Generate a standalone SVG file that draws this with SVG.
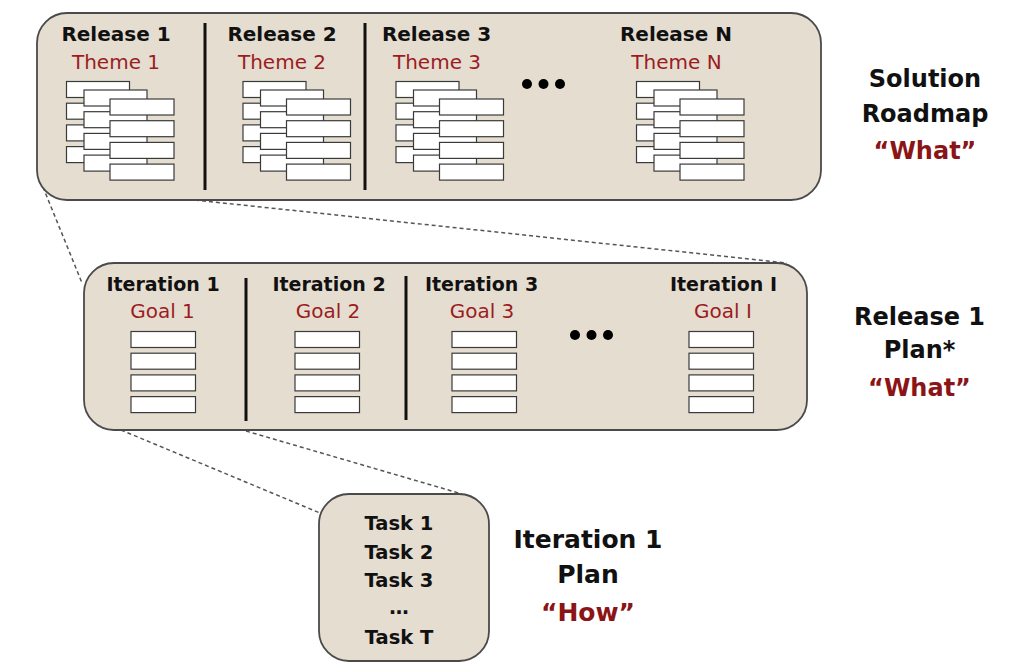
<svg xmlns="http://www.w3.org/2000/svg" xmlns:xlink="http://www.w3.org/1999/xlink" width="1034" height="666" viewBox="0 0 1034 666">
<style>
.panel{fill:#e5ddd0;stroke:#4a4a4a;stroke-width:1.8}
.box{fill:#ffffff;stroke:#3a3a3a;stroke-width:1.2}
.div{stroke:#111;stroke-width:3}
.h{font-family:"DejaVu Sans",sans-serif;font-weight:bold;fill:#111;text-anchor:middle}
.r{font-family:"DejaVu Sans",sans-serif;fill:#9b1c1f;text-anchor:middle}
.rb{font-family:"DejaVu Sans",sans-serif;font-weight:bold;fill:#8b1416;text-anchor:middle}
.dash{stroke:#555;stroke-width:1.5;stroke-dasharray:4 3;fill:none}
.dot{fill:#000}
</style>
<defs>
<g id="stack">
<rect class="box" x="0" y="0" width="63" height="16"/>
<rect class="box" x="0" y="21.7" width="63" height="16"/>
<rect class="box" x="0" y="43.4" width="63" height="16"/>
<rect class="box" x="0" y="65.1" width="63" height="16"/>
<rect class="box" x="17.5" y="8.5" width="63" height="16"/>
<rect class="box" x="17.5" y="30.2" width="63" height="16"/>
<rect class="box" x="17.5" y="51.9" width="63" height="16"/>
<rect class="box" x="17.5" y="73.6" width="63" height="16"/>
<rect class="box" x="43.5" y="17.5" width="64" height="16"/>
<rect class="box" x="43.5" y="39.2" width="64" height="16"/>
<rect class="box" x="43.5" y="60.9" width="64" height="16"/>
<rect class="box" x="43.5" y="82.6" width="64" height="16"/>
</g>
<g id="list">
<rect class="box" x="0" y="0" width="64.5" height="16"/>
<rect class="box" x="0" y="21.7" width="64.5" height="16"/>
<rect class="box" x="0" y="43.4" width="64.5" height="16"/>
<rect class="box" x="0" y="65.1" width="64.5" height="16"/>
</g>
</defs>

<g id="connectors">
<line class="dash" x1="43" y1="187" x2="82" y2="283"/>
<line class="dash" x1="195" y1="200" x2="787" y2="263"/>
<line class="dash" x1="121" y1="430" x2="320" y2="513"/>
<line class="dash" x1="246" y1="431" x2="462" y2="494"/>
</g>

<g id="solution-roadmap">
<rect class="panel" x="37" y="13" width="784" height="187" rx="30" ry="30"/>
<line class="div" x1="205" y1="23" x2="205" y2="190"/>
<line class="div" x1="365" y1="23" x2="365" y2="190"/>
<g id="release-1">
<text class="h" x="116" y="41" font-size="20">Release 1</text>
<text class="r" x="116" y="69" font-size="20">Theme 1</text>
<use xlink:href="#stack" x="66.5" y="81.5"/>
</g>
<g id="release-2">
<text class="h" x="282" y="41" font-size="20">Release 2</text>
<text class="r" x="282" y="69" font-size="20">Theme 2</text>
<use xlink:href="#stack" x="243" y="81.5"/>
</g>
<g id="release-3">
<text class="h" x="436.5" y="41" font-size="20">Release 3</text>
<text class="r" x="437" y="69" font-size="20">Theme 3</text>
<use xlink:href="#stack" x="396" y="81.5"/>
</g>
<g id="release-dots">
<circle class="dot" cx="527" cy="84" r="5"/>
<circle class="dot" cx="543.5" cy="84" r="5"/>
<circle class="dot" cx="560" cy="84" r="5"/>
</g>
<g id="release-n">
<text class="h" x="676" y="41" font-size="20">Release N</text>
<text class="r" x="676.5" y="69" font-size="20">Theme N</text>
<use xlink:href="#stack" x="636.5" y="81.5"/>
</g>
</g>

<g id="label-roadmap">
<text class="h" x="925" y="87" font-size="24">Solution</text>
<text class="h" x="925" y="122" font-size="24">Roadmap</text>
<text class="rb" x="925" y="159" font-size="24">“What”</text>
</g>

<g id="release-plan">
<rect class="panel" x="84" y="263" width="723" height="167" rx="30" ry="30"/>
<line class="div" x1="246" y1="278" x2="246" y2="421"/>
<line class="div" x1="406" y1="276" x2="406" y2="420"/>
<g id="iteration-1">
<text class="h" x="163" y="291" font-size="19">Iteration 1</text>
<text class="r" x="162.5" y="318" font-size="20">Goal 1</text>
<use xlink:href="#list" x="131" y="331.5"/>
</g>
<g id="iteration-2">
<text class="h" x="329" y="291" font-size="19">Iteration 2</text>
<text class="r" x="328" y="318" font-size="20">Goal 2</text>
<use xlink:href="#list" x="295" y="331.5"/>
</g>
<g id="iteration-3">
<text class="h" x="481.5" y="291" font-size="19">Iteration 3</text>
<text class="r" x="482" y="318" font-size="20">Goal 3</text>
<use xlink:href="#list" x="452" y="331.5"/>
</g>
<g id="iteration-dots">
<circle class="dot" cx="575" cy="335" r="5"/>
<circle class="dot" cx="591.5" cy="335" r="5"/>
<circle class="dot" cx="608" cy="335" r="5"/>
</g>
<g id="iteration-i">
<text class="h" x="723.5" y="291" font-size="19">Iteration I</text>
<text class="r" x="723" y="318" font-size="20">Goal I</text>
<use xlink:href="#list" x="689" y="331.5"/>
</g>
</g>

<g id="label-release-plan">
<text class="h" x="919.5" y="325" font-size="24">Release 1</text>
<text class="h" x="919.5" y="358" font-size="24">Plan*</text>
<text class="rb" x="919.5" y="396" font-size="24">“What”</text>
</g>

<g id="iteration-plan">
<rect class="panel" x="319" y="494" width="170" height="167" rx="30" ry="30"/>
<text class="h" x="399" y="530" font-size="19.5">Task 1</text>
<text class="h" x="399" y="558.5" font-size="19.5">Task 2</text>
<text class="h" x="399" y="587" font-size="19.5">Task 3</text>
<text class="h" x="399" y="614" font-size="19.5">…</text>
<text class="h" x="399" y="644" font-size="19.5">Task T</text>
</g>

<g id="label-iteration-plan">
<text class="h" x="588" y="548" font-size="25">Iteration 1</text>
<text class="h" x="588" y="583" font-size="25">Plan</text>
<text class="rb" x="588" y="621" font-size="25">“How”</text>
</g>
</svg>
